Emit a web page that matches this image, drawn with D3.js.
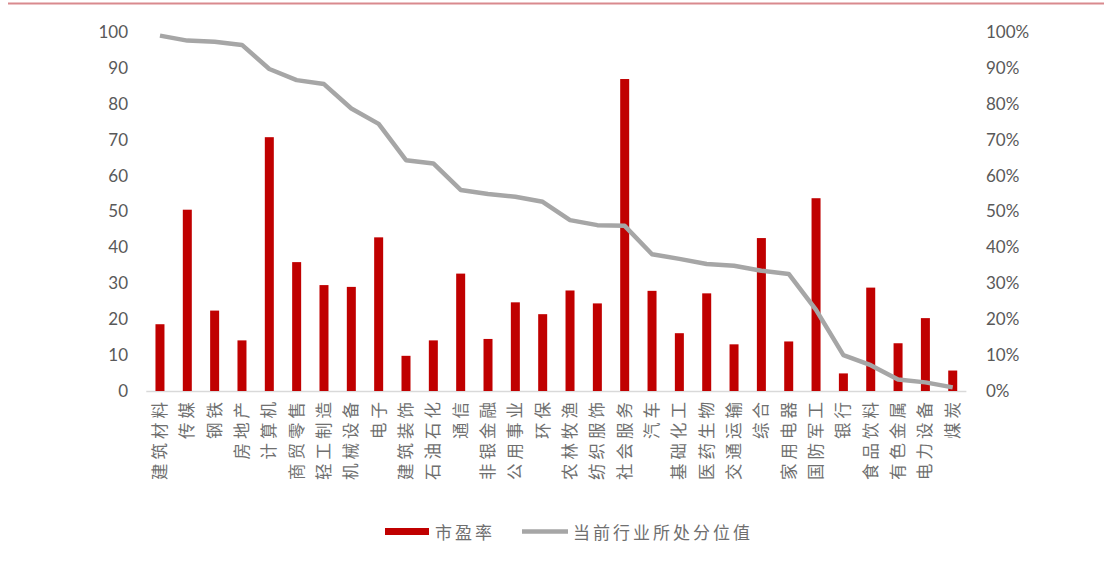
<!DOCTYPE html>
<html><head><meta charset="utf-8">
<script src="https://cdn.jsdelivr.net/npm/d3@7"></script>
<style>
html,body{margin:0;padding:0;background:#fff;}
svg{display:block;}
</style></head>
<body>
<svg id="chart" width="1104" height="564"></svg>
<script>
const categories = ["建筑材料","传媒","钢铁","房地产","计算机","商贸零售","轻工制造","机械设备","电子","建筑装饰","石油石化","通信","非银金融","公用事业","环保","农林牧渔","纺织服饰","社会服务","汽车","基础化工","医药生物","交通运输","综合","家用电器","国防军工","银行","食品饮料","有色金属","电力设备","煤炭"];
const peValues = [18.6,50.5,22.4,14.1,70.7,35.9,29.5,29.0,42.8,9.8,14.1,32.7,14.5,24.7,21.4,28.0,24.4,86.9,27.9,16.1,27.2,13.0,42.6,13.8,53.7,4.9,28.8,13.3,20.3,5.7];
const percentileValues = [0.990,0.976,0.973,0.964,0.897,0.866,0.855,0.787,0.744,0.643,0.634,0.560,0.549,0.541,0.527,0.476,0.462,0.460,0.381,0.368,0.354,0.349,0.335,0.326,0.226,0.100,0.072,0.032,0.024,0.010];
const leftTicks = [0,10,20,30,40,50,60,70,80,90,100];
const rightTicks = [0,0.1,0.2,0.3,0.4,0.5,0.6,0.7,0.8,0.9,1.0];
const legendLabels = ["市盈率","当前行业所处分位值"];

const svg = d3.select("#chart");
const plotLeft = 146.3, plotRight = 966.4, plotTop = 32, plotBottom = 391;

// top border line
svg.append("line").attr("x1",8).attr("x2",1104).attr("y1",3.5).attr("y2",3.5)
  .attr("stroke","#d98a8e").attr("stroke-width",2);

const x = d3.scaleBand().domain(categories).range([plotLeft, plotRight]).paddingInner(0).paddingOuter(0);
const yL = d3.scaleLinear().domain([0,100]).range([plotBottom, plotTop]);
const yR = d3.scaleLinear().domain([0,1]).range([plotBottom, plotTop]);

// left axis
const axL = d3.axisLeft(yL).tickValues(leftTicks).tickSize(0).tickPadding(0);
const gL = svg.append("g").attr("transform",`translate(128,0)`).call(axL);
gL.select(".domain").remove();
gL.selectAll("text").attr("font-family","Lato, 'Open Sans', sans-serif").attr("font-size",17).attr("fill","#595959");

// right axis
const axR = d3.axisRight(yR).tickValues(rightTicks).tickFormat(d3.format(".0%")).tickSize(0).tickPadding(0);
const gR = svg.append("g").attr("transform",`translate(986,0)`).call(axR);
gR.select(".domain").remove();
gR.selectAll("text").attr("font-family","Lato, 'Open Sans', sans-serif").attr("font-size",17).attr("fill","#595959");

// x axis line
svg.append("line").attr("x1",plotLeft).attr("x2",plotRight).attr("y1",plotBottom+0.5).attr("y2",plotBottom+0.5)
  .attr("stroke","#d9d9d9").attr("stroke-width",1.5);

// bars
const barW = 9;
svg.append("g").selectAll("rect").data(categories).join("rect")
  .attr("x", d => x(d) + x.bandwidth()/2 - barW/2)
  .attr("width", barW)
  .attr("y", (d,i) => yL(peValues[i]))
  .attr("height", (d,i) => yL(0) - yL(peValues[i]))
  .attr("fill","#c00000");

// line
const line = d3.line().x((d,i) => x(categories[i]) + x.bandwidth()/2).y(d => yR(d));
svg.append("path").datum(percentileValues).attr("d", line)
  .attr("fill","none").attr("stroke","#a6a6a6").attr("stroke-width",4.5).attr("stroke-linejoin","round");

// category labels
const gx = svg.append("g");
categories.forEach(c => {
  const cx = x(c) + x.bandwidth()/2;
  gx.append("text")
    .attr("transform", `translate(${cx+6},398) rotate(-90)`)
    .attr("text-anchor","end")
    .attr("font-family","'Noto Sans CJK SC', sans-serif")
    .attr("font-size",16.5)
    .attr("letter-spacing","4px")
    .attr("fill","#6f6f6f")
    .text(c);
});

// legend
const lg = svg.append("g");
lg.append("rect").attr("x",385).attr("y",528).attr("width",44).attr("height",7).attr("fill","#c00000");
lg.append("text").attr("x",435).attr("y",539).attr("font-family","'Noto Sans CJK SC', sans-serif")
  .attr("font-size",17).attr("letter-spacing","3px").attr("fill","#6f6f6f").text(legendLabels[0]);
lg.append("line").attr("x1",522).attr("x2",568).attr("y1",531.5).attr("y2",531.5).attr("stroke","#a6a6a6").attr("stroke-width",4.5);
lg.append("text").attr("x",573).attr("y",539).attr("font-family","'Noto Sans CJK SC', sans-serif")
  .attr("font-size",17).attr("letter-spacing","3px").attr("fill","#6f6f6f").text(legendLabels[1]);
</script>
</body></html>
